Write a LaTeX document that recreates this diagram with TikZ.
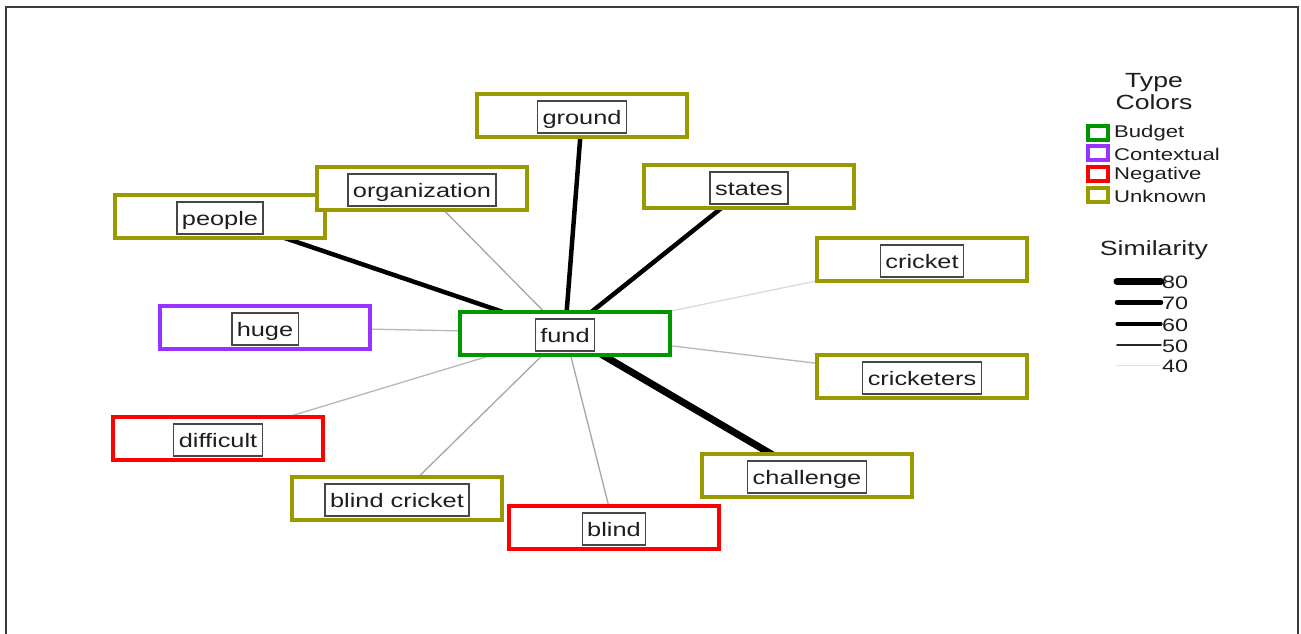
\documentclass[tikz,border=0pt]{standalone}
\usepackage{fontspec}
\setmainfont{Liberation Sans}[FakeStretch=1.3]
\usetikzlibrary{backgrounds}
\definecolor{cbudget}{RGB}{0,150,0}
\definecolor{ccontext}{RGB}{153,51,255}
\definecolor{cneg}{RGB}{255,0,0}
\definecolor{cunk}{RGB}{153,153,0}
\definecolor{tagc}{RGB}{70,70,70}
\definecolor{txt}{RGB}{30,30,30}
\definecolor{framec}{RGB}{60,60,60}
\begin{document}
\begin{tikzpicture}[x=1pt,y=-1pt,
  box/.style={draw=#1, line width=4pt, fill=white, minimum width=210pt, minimum height=43pt, inner sep=0pt},
  tag/.style={draw=tagc, line width=1.4pt, fill=white, inner xsep=5pt, inner ysep=4pt,
    text height=19pt, text depth=5pt, font=\fontsize{19.5}{22}\selectfont, text=txt},
  s80/.style={line width=7pt, black},
  s70/.style={line width=4.5pt, black},
  s60/.style={line width=3.2pt, black},
  s50/.style={line width=1.6pt, black!85},
  s40/.style={line width=1.5pt, black!12},
  eA/.style={line width=1.3pt, black!35},
  eB/.style={line width=1.3pt, black!28},
  eC/.style={line width=1.3pt, black!14},
  legtitle/.style={font=\fontsize{20.5}{22}\selectfont, text=txt, inner sep=0pt},
  legtext/.style={font=\fontsize{17}{19}\selectfont, text=txt, inner sep=0pt, anchor=west},
  legsq/.style={draw=#1, line width=4pt, fill=white, minimum width=20pt, minimum height=14pt, inner sep=0pt},
  legline/.style={line cap=round},
]
\useasboundingbox (0,0) rectangle (1301,633);
\draw[framec, line width=2.5pt] (6,640) -- (6,7) -- (1298,7) -- (1298,640);

% nodes
\node[box=cbudget] (fund) at (565,333) {};
\node[tag] (fund-t) at ([yshift=-2pt]fund) {fund};
\node[box=cunk] (ground) at (582,115) {};
\node[tag] (ground-t) at ([yshift=-2pt]ground) {ground};
\node[box=cunk] (people) at (220,216) {};
\node[tag] (people-t) at ([yshift=-2pt]people) {people};
\node[box=cunk] (organization) at (422,188) {};
\node[tag] (organization-t) at ([yshift=-2pt]organization) {organization};
\node[box=cunk] (states) at (749,186) {};
\node[tag] (states-t) at ([yshift=-2pt]states) {states};
\node[box=cunk] (cricket) at (922,259) {};
\node[tag] (cricket-t) at ([yshift=-2pt]cricket) {cricket};
\node[box=ccontext] (huge) at (265,327) {};
\node[tag] (huge-t) at ([yshift=-2pt]huge) {huge};
\node[box=cunk] (cricketers) at (922,376) {};
\node[tag] (cricketers-t) at ([yshift=-2pt]cricketers) {cricketers};
\node[box=cneg] (difficult) at (218,438) {};
\node[tag] (difficult-t) at ([yshift=-2pt]difficult) {difficult};
\node[box=cunk] (challenge) at (807,475) {};
\node[tag] (challenge-t) at ([yshift=-2pt]challenge) {challenge};
\node[box=cunk] (blindcricket) at (397,498) {};
\node[tag] (blindcricket-t) at ([yshift=-2pt]blindcricket) {blind cricket};
\node[box=cneg] (blind) at (614,527) {};
\node[tag] (blind-t) at ([yshift=-2pt]blind) {blind};

% edges
\begin{pgfonlayer}{background}
\fill[white] (0,0) rectangle (1301,633);
\draw[s80] (fund.center) -- (challenge.center);
\draw[s70] (fund.center) -- (people.center);
\draw[s70] (fund.center) -- (ground.center);
\draw[s70] (fund.center) -- (states.center);
\draw[eA] (fund.center) -- (organization.center);
\draw[eB] (fund.center) -- (huge.center);
\draw[eB] (fund.center) -- (difficult.center);
\draw[eA] (fund.center) -- (blindcricket.center);
\draw[eA] (fund.center) -- (blind.center);
\draw[eB] (fund.center) -- (cricketers.center);
\draw[eC] (fund.center) -- (cricket.center);
\end{pgfonlayer}

% legend
\node[legtitle] (lt1) at (1154,83) {Type};
\node[legtitle] (lt2) at (1154,102) {Colors};
\node[legsq=cbudget] (sq1) at (1098,132.5) {};
\node[legtext] (lb1) at (1114,133.5) {Budget};
\node[legsq=ccontext] (sq2) at (1098,153) {};
\node[legtext] (lb2) at (1114,154.5) {Contextual};
\node[legsq=cneg] (sq3) at (1098,174) {};
\node[legtext] (lb3) at (1114,175.5) {Negative};
\node[legsq=cunk] (sq4) at (1098,195) {};
\node[legtext] (lb4) at (1114,196.5) {Unknown};
\node[legtitle] (ls) at (1154,250) {Similarity};
\coordinate (l80a) at (1117,281.5); \coordinate (l80b) at (1161,281.5);
\coordinate (l70a) at (1117,302.5); \coordinate (l70b) at (1161,302.5);
\coordinate (l60a) at (1117,324); \coordinate (l60b) at (1161,324);
\coordinate (l50a) at (1117,345); \coordinate (l50b) at (1161,345);
\coordinate (l40a) at (1117,365.5); \coordinate (l40b) at (1161,365.5);
\draw[s80,legline] (l80a) -- (l80b);
\draw[s70,legline] (l70a) -- (l70b);
\draw[s60,legline] (l60a) -- (l60b);
\draw[s50,legline] (l50a) -- (l50b);
\draw[s40,legline] (l40a) -- (l40b);
\node[legtext, font=\fontsize{18}{20}\selectfont] (n80) at (1162,282.5) {80};
\node[legtext, font=\fontsize{18}{20}\selectfont] (n70) at (1162,303.5) {70};
\node[legtext, font=\fontsize{18}{20}\selectfont] (n60) at (1162,325) {60};
\node[legtext, font=\fontsize{18}{20}\selectfont] (n50) at (1162,346) {50};
\node[legtext, font=\fontsize{18}{20}\selectfont] (n40) at (1162,366.5) {40};
\end{tikzpicture}
\end{document}
